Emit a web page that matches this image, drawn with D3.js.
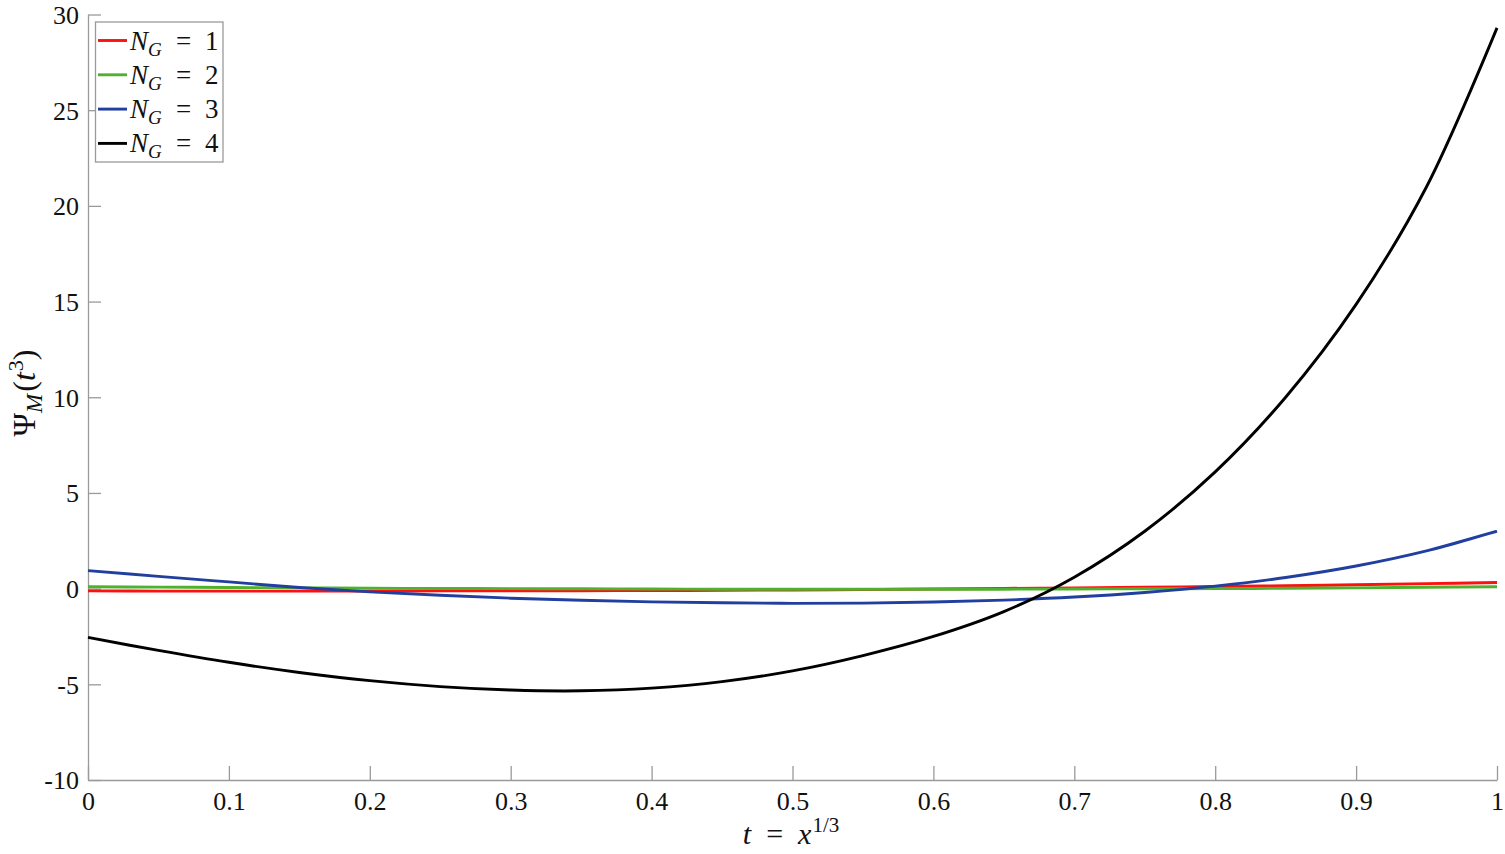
<!DOCTYPE html>
<html>
<head>
<meta charset="utf-8">
<script src="https://cdn.jsdelivr.net/npm/d3@7"></script>
<style>
  body { margin: 0; background: #fff; }
</style>
</head>
<body>
<svg id="chart" width="1505" height="854"></svg>
<script>
// values
const tValues = [0, 0.05, 0.1, 0.15, 0.2, 0.25, 0.3, 0.35, 0.4, 0.45, 0.5,
                 0.55, 0.6, 0.65, 0.7, 0.75, 0.8, 0.85, 0.9, 0.95, 1];
const psiG1 = [-0.12, -0.13, -0.13, -0.13, -0.13, -0.12, -0.12, -0.11, -0.1, -0.09, -0.07,
               -0.05, -0.02, 0.01, 0.04, 0.07, 0.11, 0.15, 0.2, 0.26, 0.32];
const psiG2 = [0.1, 0.08, 0.06, 0.04, 0.02, 0.01, 0, -0.01, -0.02, -0.03, -0.03,
               -0.03, -0.03, -0.03, -0.02, -0.01, 0, 0.02, 0.04, 0.07, 0.1];
const psiG3 = [0.94, 0.64, 0.35, 0.06, -0.17, -0.35, -0.5, -0.61, -0.69, -0.74, -0.77,
               -0.76, -0.7, -0.6, -0.44, -0.2, 0.13, 0.58, 1.18, 1.97, 3.0];
const psiG4 = [-2.55, -3.23, -3.85, -4.38, -4.81, -5.12, -5.3, -5.34, -5.2, -4.86, -4.3,
               -3.5, -2.5, -1.2, 0.6, 3.0, 6.1, 10.0, 14.85, 21.0, 29.3];
const seriesNames = ["1", "2", "3", "4"];
const seriesColors = ["#ff1010", "#4fb22e", "#213f9f", "#000000"];
const xTicks = [0, 0.1, 0.2, 0.3, 0.4, 0.5, 0.6, 0.7, 0.8, 0.9, 1];
const yTicks = [-10, -5, 0, 5, 10, 15, 20, 25, 30];

const allSeries = [psiG1, psiG2, psiG3, psiG4];
const FONT = "'Liberation Serif'";

const svg = d3.select("#chart");
const plot = { left: 88, right: 1497, top: 14.5, bottom: 780 };

const x = d3.scaleLinear().domain([0, 1]).range([plot.left, plot.right]);
const y = d3.scaleLinear().domain([-10, 30]).range([plot.bottom, plot.top]);

// axes: only left and bottom, ticks pointing inward
const xAxis = svg.append("g")
    .attr("transform", `translate(0,${plot.bottom})`)
    .call(d3.axisBottom(x).tickValues(xTicks).tickSizeInner(-14).tickSizeOuter(0)
        .tickPadding(12).tickFormat(d => d3.format("~g")(d)));
const yAxis = svg.append("g")
    .attr("transform", `translate(${plot.left},0)`)
    .call(d3.axisLeft(y).tickValues(yTicks).tickSizeInner(-13).tickSizeOuter(0)
        .tickPadding(9).tickFormat(d => String(d)));

[xAxis, yAxis].forEach(g => {
    g.select(".domain").attr("stroke", "#9a9a9a").attr("stroke-width", 1.3);
    g.selectAll(".tick line").attr("stroke", "#9a9a9a").attr("stroke-width", 1.3);
    g.selectAll(".tick text")
        .style("font-family", FONT)
        .style("font-size", "26px")
        .attr("fill", "#111");
});
yAxis.selectAll(".tick text").attr("dy", "0.34em");

// curves
const line = d3.line()
    .x((d, i) => x(tValues[i]))
    .y(d => y(d))
    .curve(d3.curveCatmullRom.alpha(0.5));

svg.append("g")
    .selectAll("path")
    .data(allSeries)
    .join("path")
    .attr("d", d => line(d))
    .attr("fill", "none")
    .attr("stroke", (d, i) => seriesColors[i])
    .attr("stroke-width", 2.9)
    .attr("stroke-linejoin", "round");

// axis labels
const xLabel = svg.append("text")
    .attr("x", 791)
    .attr("y", 844)
    .attr("text-anchor", "middle")
    .style("font-family", FONT)
    .style("font-size", "30px")
    .attr("fill", "#111");
xLabel.append("tspan").attr("font-style", "italic").text("t");
xLabel.append("tspan").text("\u2002=\u2002");
xLabel.append("tspan").attr("font-style", "italic").text("x");
xLabel.append("tspan").style("font-size", "21px").attr("dy", -12).attr("dx", 1).text("1/3");

const yLabel = svg.append("text")
    .attr("transform", "translate(35,393) rotate(-90)")
    .attr("text-anchor", "middle")
    .style("font-family", FONT)
    .style("font-size", "32px")
    .attr("fill", "#111");
yLabel.append("tspan").text("Ψ");
yLabel.append("tspan").attr("font-style", "italic").style("font-size", "23px").attr("dy", 7).text("M");
yLabel.append("tspan").attr("dy", -7).attr("dx", 2).text("(");
yLabel.append("tspan").attr("font-style", "italic").text("t");
yLabel.append("tspan").style("font-size", "22px").attr("dy", -12).attr("dx", 1).text("3");
yLabel.append("tspan").attr("dy", 12).text(")");

// legend
const legend = svg.append("g");
legend.append("rect")
    .attr("x", 95.5)
    .attr("y", 22)
    .attr("width", 127.5)
    .attr("height", 140)
    .attr("fill", "#fff")
    .attr("stroke", "#9a9a9a")
    .attr("stroke-width", 1.3);

const entry = legend.selectAll("g.entry")
    .data(seriesNames)
    .join("g")
    .attr("class", "entry")
    .attr("transform", (d, i) => `translate(0,${40.5 + i * 34.3})`);

entry.append("line")
    .attr("x1", 98)
    .attr("x2", 127)
    .attr("stroke", (d, i) => seriesColors[i])
    .attr("stroke-width", 2.9);

const entryText = entry.append("text")
    .attr("y", 9)
    .style("font-family", FONT)
    .style("font-size", "27px")
    .attr("fill", "#111");
entryText.append("tspan").attr("x", 130).attr("font-style", "italic").text("N");
entryText.append("tspan").attr("x", 148).attr("font-style", "italic").style("font-size", "19px").attr("dy", 6).text("G");
entryText.append("tspan").attr("x", 176).attr("dy", -6).text("=");
entryText.append("tspan").attr("x", 205).text(d => d);
</script>
</body>
</html>
